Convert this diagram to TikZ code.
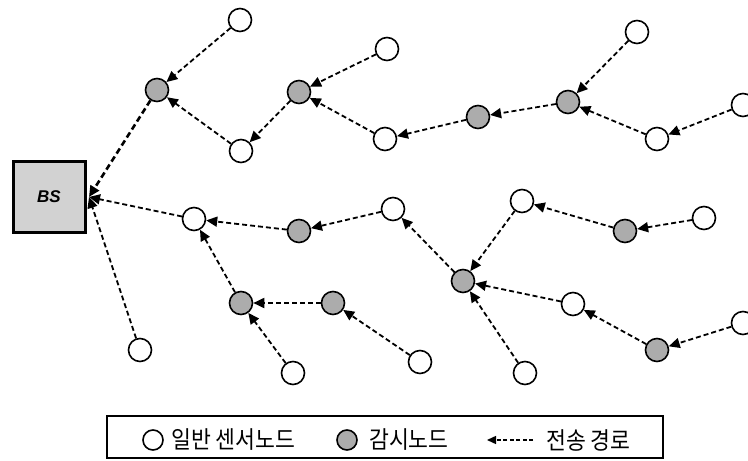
\documentclass[tikz,border=0pt]{standalone}
\usepackage{fontspec}
\newfontfamily\kr[FakeStretch=0.9]{Noto Sans CJK KR}
\newfontfamily\arial{Liberation Sans}
\usetikzlibrary{arrows.meta}

\tikzset{
  plain/.style={circle, draw=black, line width=1.6pt, fill=white, minimum size=23pt, inner sep=0pt},
  watch/.style={plain, fill=gray!65},
  link/.style={line width=1.8pt, dash pattern=on 5pt off 3pt,
               -{Triangle[length=11pt,width=10pt]}},
  trunk/.style={link, line width=2.6pt, dash pattern=on 6pt off 3.5pt},
  legtext/.style={font=\kr\fontsize{24}{26}\selectfont, anchor=west, inner sep=0pt},
}

\begin{document}
\begin{tikzpicture}[x=1pt, y=-1pt]
\useasboundingbox (0,0) rectangle (748,461);

% base station
\node[draw=black, line width=3pt, fill=gray!35, minimum width=72pt, minimum height=71pt,
      inner sep=0pt, font=\arial\fontsize{17}{19}\selectfont\bfseries\itshape] (BS) at (49,197) {BS};
\coordinate (BSin) at (89,197);

% upper branch
\node[watch] (G1) at (157,90) {};
\node[plain] (W1) at (240,20) {};
\node[plain] (W2) at (241,151) {};
\node[watch] (G2) at (299,92) {};
\node[plain] (W3) at (387,49) {};
\node[plain] (W4) at (385,139) {};
\node[watch] (G3) at (478,117) {};
\node[watch] (G4) at (568,102) {};
\node[plain] (W5) at (637,32) {};
\node[plain] (W6) at (657,139) {};
\node[plain] (W7) at (743,105) {};

% middle and lower branches
\node[plain] (W8) at (194,219) {};
\node[watch] (G5) at (299,231) {};
\node[plain] (W9) at (393,209) {};
\node[watch] (G6) at (463,281) {};
\node[watch] (G7) at (241,303) {};
\node[watch] (G8) at (333,303) {};
\node[plain] (W10) at (293,373) {};
\node[plain] (W11) at (420,362) {};
\node[plain] (W12) at (522,201) {};
\node[watch] (G9) at (625,231) {};
\node[plain] (W13) at (704,218) {};
\node[plain] (W14) at (573,304) {};
\node[watch] (G10) at (657,350) {};
\node[plain] (W15) at (743,323) {};
\node[plain] (W16) at (525,373) {};
\node[plain] (W17) at (140,350) {};

% routes toward the base station
\draw[trunk] (G1) -- (BSin);
\draw[link] (W8) -- (BSin);
\draw[link] (W17) -- (BSin);

\draw[link] (W1) -- (G1);
\draw[link] (W2) -- (G1);
\draw[link] (G2) -- (W2);
\draw[link] (W3) -- (G2);
\draw[link] (W4) -- (G2);
\draw[link] (G3) -- (W4);
\draw[link] (G4) -- (G3);
\draw[link] (W5) -- (G4);
\draw[link] (W6) -- (G4);
\draw[link] (W7) -- (W6);

\draw[link] (G5) -- (W8);
\draw[link] (W9) -- (G5);
\draw[link] (G6) -- (W9);
\draw[link] (G7) -- (W8);
\draw[link] (G8) -- (G7);
\draw[link] (W10) -- (G7);
\draw[link] (W11) -- (G8);
\draw[link] (W12) -- (G6);
\draw[link] (G9) -- (W12);
\draw[link] (W13) -- (G9);
\draw[link] (W14) -- (G6);
\draw[link] (G10) -- (W14);
\draw[link] (W15) -- (G10);
\draw[link] (W16) -- (G6);

% legend
\node[draw=black, line width=2.5pt, minimum width=556pt, minimum height=42pt, inner sep=0pt] (legend) at (385,437) {};
\node[plain, minimum size=20pt] (lw) at (153,440) {};
\node[legtext] (lwt) at (171,440) {일반 센서노드};
\node[watch, minimum size=20pt] (lg) at (347,440) {};
\node[legtext] (lgt) at (369,440) {감시노드};
\coordinate (la) at (533,440);
\coordinate (lb) at (487,440);
\draw[line width=1.4pt, dash pattern=on 4pt off 2.5pt, -{Triangle[length=9pt,width=8pt]}] (la) -- (lb);
\node[legtext] (lat) at (546,440) {전송 경로};
\end{tikzpicture}
\end{document}
